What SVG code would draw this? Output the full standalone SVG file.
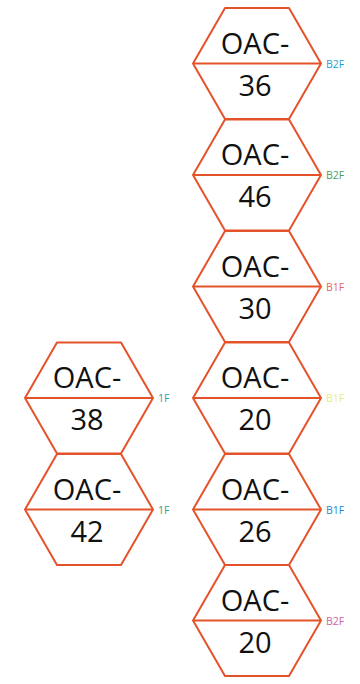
<svg xmlns="http://www.w3.org/2000/svg" width="360" height="684" viewBox="0 0 360 684">
<defs>
<style>
.hex{fill:#ffffff;stroke:#e4522a;stroke-width:2;stroke-linejoin:round}
.mid{stroke:#e4522a;stroke-width:2}
.t{font-family:"Open Sans","Noto Sans",sans-serif;font-size:29px;fill:#111;text-anchor:middle}
.f{font-family:"Open Sans","Noto Sans",sans-serif;font-size:10.5px}
</style>
<g id="hexshape">
<polygon class="hex" points="-32,-55.5 32,-55.5 64,0 32,55.5 -32,55.5 -64,0"/>
<line class="mid" x1="-64" y1="0" x2="64" y2="0"/>
</g>
</defs>
<rect width="360" height="684" fill="#ffffff"/>
<g id="connectors"/>
<g id="n1" transform="translate(257,63.5)">
<use href="#hexshape"/>
<text class="t" x="-2" y="-10">OAC-</text>
<text class="t" x="-2" y="32">36</text>
<text class="f" x="69" y="4" fill="#1f9fd2">B2F</text>
</g>
<g id="n2" transform="translate(257,175)">
<use href="#hexshape"/>
<text class="t" x="-2" y="-10">OAC-</text>
<text class="t" x="-2" y="32">46</text>
<text class="f" x="69" y="4" fill="#4c9e62">B2F</text>
</g>
<g id="n3" transform="translate(257,286.5)">
<use href="#hexshape"/>
<text class="t" x="-2" y="-10">OAC-</text>
<text class="t" x="-2" y="32">30</text>
<text class="f" x="69" y="4" fill="#e2665c">B1F</text>
</g>
<g id="n4" transform="translate(257,398)">
<use href="#hexshape"/>
<text class="t" x="-2" y="-10">OAC-</text>
<text class="t" x="-2" y="32">20</text>
<text class="f" x="69" y="4" fill="#e4ee7c">B1F</text>
</g>
<g id="n5" transform="translate(257,509.5)">
<use href="#hexshape"/>
<text class="t" x="-2" y="-10">OAC-</text>
<text class="t" x="-2" y="32">26</text>
<text class="f" x="69" y="4" fill="#2a86ca">B1F</text>
</g>
<g id="n6" transform="translate(257,620.5)">
<use href="#hexshape"/>
<text class="t" x="-2" y="-10">OAC-</text>
<text class="t" x="-2" y="32">20</text>
<text class="f" x="69" y="4" fill="#d262a2">B2F</text>
</g>
<g id="n7" transform="translate(89,398)">
<use href="#hexshape"/>
<text class="t" x="-2" y="-10">OAC-</text>
<text class="t" x="-2" y="32">38</text>
<text class="f" x="69" y="4" fill="#26a0b8">1F</text>
</g>
<g id="n8" transform="translate(89,509.5)">
<use href="#hexshape"/>
<text class="t" x="-2" y="-10">OAC-</text>
<text class="t" x="-2" y="32">42</text>
<text class="f" x="69" y="4" fill="#2ea08a">1F</text>
</g>
</svg>
